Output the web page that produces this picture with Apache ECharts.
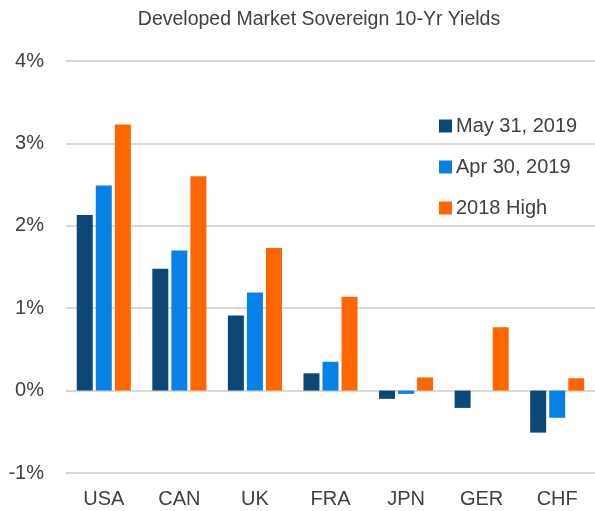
<!DOCTYPE html>
<html>
<head>
<meta charset="utf-8">
<script src="https://cdn.jsdelivr.net/npm/echarts@6/dist/echarts.min.js"></script>
<style>
  html, body { margin: 0; padding: 0; background: #fff; }
  #chart { width: 595px; height: 511px; }
</style>
</head>
<body>
<div id="chart"></div>
<script>
  // 数据
  var categories = ['USA', 'CAN', 'UK', 'FRA', 'JPN', 'GER', 'CHF'];
  var may31 = [2.13, 1.48, 0.91, 0.21, -0.10, -0.21, -0.51];
  var apr30 = [2.49, 1.70, 1.19, 0.35, -0.04, 0, -0.33];
  var high2018 = [3.23, 2.60, 1.73, 1.14, 0.16, 0.77, 0.15];
  var yTicks = [-1, 0, 1, 2, 3, 4];

  var font = '"Liberation Sans", Arial, sans-serif';
  var textColor = '#404040';

  var chart = echarts.init(document.getElementById('chart'));

  function bar(name, data, color) {
    return {
      name: name,
      type: 'bar',
      data: data,
      barWidth: 16,
      barGap: '19%',
      itemStyle: { color: color }
    };
  }

  chart.setOption({
    animation: false,
    title: {
      text: 'Developed Market Sovereign 10-Yr Yields',
      left: 314,
      textAlign: 'center',
      top: 5,
      textStyle: { fontFamily: font, fontSize: 19.5, fontWeight: 'normal', color: textColor }
    },
    legend: {
      orient: 'vertical',
      left: 434,
      top: 109,
      icon: 'rect',
      itemWidth: 13,
      itemHeight: 13,
      itemGap: 17,
      textStyle: { fontFamily: font, fontSize: 20, color: textColor, lineHeight: 24, padding: [0, 0, 0, -1] }
    },
    grid: { left: 66, top: 61, width: 537, bottom: 38 },
    xAxis: {
      type: 'category',
      data: categories,
      axisLine: { show: false, onZero: false },
      axisTick: { show: false },
      axisLabel: { fontFamily: font, fontSize: 20, color: textColor, margin: 16 }
    },
    yAxis: {
      type: 'value',
      min: yTicks[0],
      max: yTicks[yTicks.length - 1],
      interval: 1,
      axisLine: { show: false },
      axisTick: { show: false },
      axisLabel: { formatter: '{value}%', fontFamily: font, fontSize: 20, color: textColor, margin: 22 },
      splitLine: { lineStyle: { color: '#d9d9d9', width: 2 } }
    },
    series: [
      bar('May 31, 2019', may31, '#0c4877'),
      bar('Apr 30, 2019', apr30, '#0681e5'),
      bar('2018 High', high2018, '#ff6600')
    ]
  });
</script>
</body>
</html>
